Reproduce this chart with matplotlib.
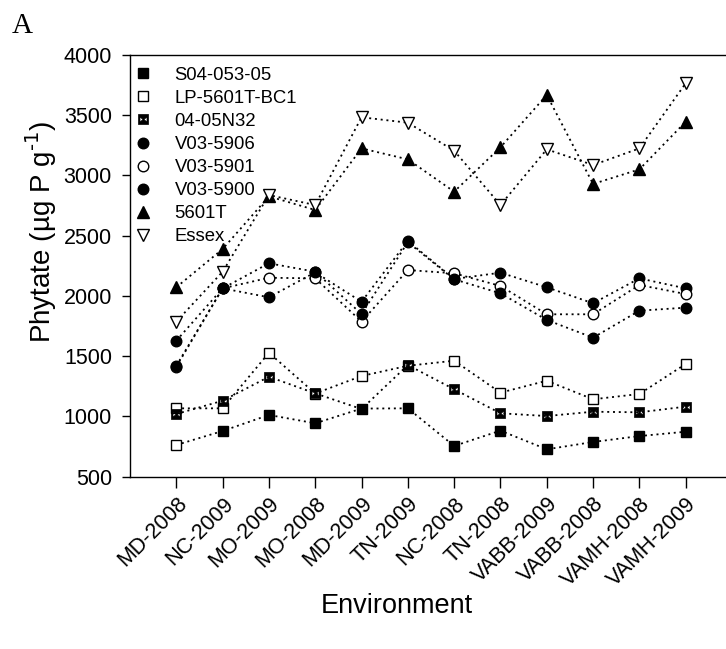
#%% Phytate by environment, recreated chart
import numpy as np
from matplotlib import pyplot as plt
from matplotlib.path import Path
from matplotlib.lines import Line2D

#%% Data
environments = ['MD-2008', 'NC-2009', 'MO-2009', 'MO-2008', 'MD-2009', 'TN-2009',
                'NC-2008', 'TN-2008', 'VABB-2009', 'VABB-2008', 'VAMH-2008', 'VAMH-2009']

s04_053_05  = [763, 879, 1012, 943, 1065, 1067, 755, 882, 727, 788, 837, 873]
lp_5601t    = [1067, 1067, 1528, 1190, 1335, 1420, 1462, 1197, 1296, 1142, 1186, 1435]
n04_05n32   = [1020, 1130, 1329, 1191, 1061, 1426, 1225, 1026, 1003, 1039, 1034, 1081]
v03_5906    = [1628, 2062, 1988, 2195, 1951, 2455, 2140, 2192, 2071, 1938, 2145, 2062]
v03_5901    = [1412, 2062, 2150, 2145, 1786, 2214, 2187, 2082, 1847, 1847, 2090, 2015]
v03_5900    = [1420, 2062, 2270, 2200, 1849, 2445, 2137, 2021, 1800, 1653, 1877, 1902]
t5601       = [2071, 2388, 2825, 2712, 3223, 3132, 2864, 3232, 3666, 2928, 3049, 3444]
essex       = [1786, 2200, 2836, 2753, 3481, 3436, 3204, 2753, 3215, 3085, 3223, 3763]

#%% Styles
plt.rcParams['font.family'] = ['Liberation Sans', 'DejaVu Sans']

# black square with two white notches (bowtie)
sq = [(-1, -1), (1, -1), (1, 1), (-1, 1), (-1, -1)]
tl = [(-0.7, -0.5), (-0.7, 0.5), (-0.08, 0), (-0.7, -0.5)]
tr = [(0.7, -0.5), (0.08, 0), (0.7, 0.5), (0.7, -0.5)]
codes = ([Path.MOVETO] + [Path.LINETO] * 3 + [Path.CLOSEPOLY]) + \
        ([Path.MOVETO] + [Path.LINETO] * 2 + [Path.CLOSEPOLY]) * 2
bowtie = Path(sq + tl + tr, codes)

dots = (0, (1.1, 2.1))
lw = 1.3

series = [
    ('S04-053-05',   s04_053_05, dict(marker='s', ms=7.2, mfc='k')),
    ('LP-5601T-BC1', lp_5601t,   dict(marker='s', ms=7.2, mfc='w')),
    ('04-05N32',     n04_05n32,  dict(marker=bowtie, ms=7.2, mfc='k', mew=0.5)),
    ('V03-5906',     v03_5906,   dict(marker='o', ms=7.6, mfc='k')),
    ('V03-5901',     v03_5901,   dict(marker='o', ms=7.6, mfc='w')),
    ('V03-5900',     v03_5900,   dict(marker='o', ms=7.6, mfc='k')),
    ('5601T',        t5601,      dict(marker='^', ms=8.5, mfc='k')),
    ('Essex',        essex,      dict(marker='v', ms=8.5, mfc='w')),
]

#%% Plot
fig = plt.figure(figsize=(7.26, 6.49), dpi=100)
ax = fig.add_axes([130 / 726, 1 - 476.7 / 649, 602 / 726, 422 / 649])

x = np.arange(len(environments))
handles = []
for name, vals, st in series:
    kw = dict(st)
    kw.setdefault('mew', 1.0)
    if name == 'S04-053-05':
        # first point is drawn open in the original
        ax.plot(x, vals, color='k', ls=dots, lw=lw, mec='k', markevery=slice(1, None), **kw)
        kw2 = dict(kw)
        kw2['mfc'] = 'w'
        ax.plot(x, vals, color='k', ls='none', mec='k', markevery=[0], **kw2)
    else:
        ax.plot(x, vals, color='k', ls=dots, lw=lw, mec='k', **kw)
    handles.append(Line2D([], [], color='k', ls='none', mec='k', label=name, **kw))

ax.set_xlim(-1, 12)
ax.set_ylim(500, 4000)
ax.set_yticks(np.arange(500, 4001, 500))
ax.set_xticks(x)
ax.set_xticklabels(environments, rotation=45, ha='right', va='top', rotation_mode='anchor')
ax.tick_params(axis='both', direction='out', length=6, width=1, labelsize=15.5, colors='k')
ax.tick_params(axis='y', pad=7)
ax.tick_params(axis='x', length=8, pad=4)
for sp in ax.spines.values():
    sp.set_linewidth(1.0)

ax.set_ylabel('Phytate (µg P g$^{\\text{-1}}$)', fontsize=20)
ax.yaxis.set_label_coords(-0.118, 0.58)
ax.set_xlabel('Environment', fontsize=19.5)
ax.xaxis.set_label_coords(0.4435, -0.276)

ax.legend(handles=handles, loc='upper left', bbox_to_anchor=(0.0066, 0.9716), frameon=False,
          fontsize=13.3, handlelength=1.0, handletextpad=1.2, labelspacing=0.33,
          borderaxespad=0, borderpad=0)

fig.text(12 / 726, 1 - 33 / 649, 'A', fontsize=21, family='Liberation Serif',
         ha='left', va='baseline')

fig.savefig('out.png', dpi=100)
